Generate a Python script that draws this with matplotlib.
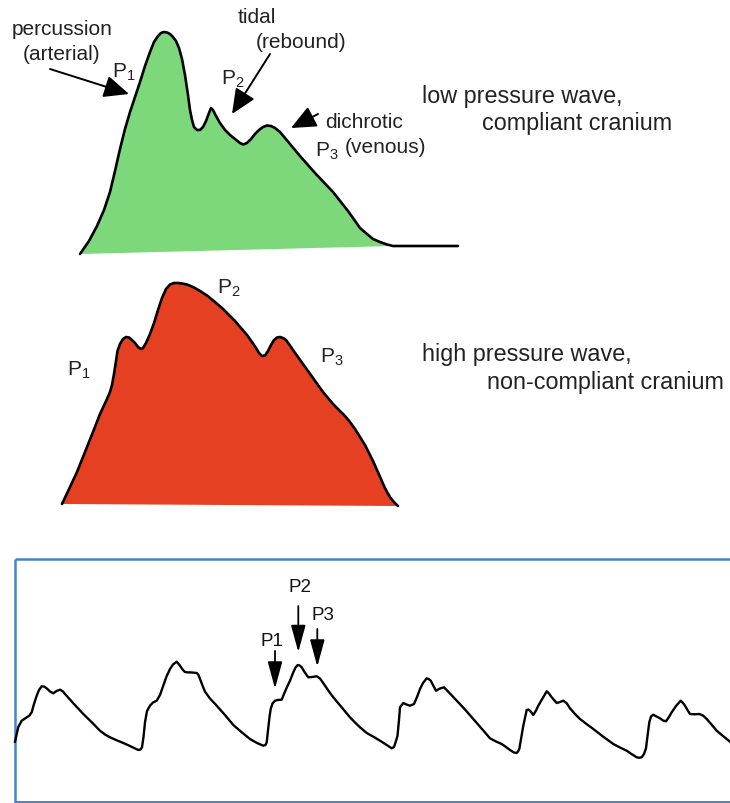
import matplotlib
matplotlib.use("Agg")
import matplotlib.pyplot as plt
from matplotlib import font_manager

plt.rcParams['font.family'] = ['Liberation Sans', 'DejaVu Sans']
plt.rcParams['mathtext.fontset'] = 'custom'
plt.rcParams['mathtext.rm'] = 'Liberation Sans'
plt.rcParams['mathtext.it'] = 'Liberation Sans'

# low pressure wave (green), picture pixel coords
green_x = [80, 89, 97, 104, 110, 115, 120, 125, 130, 135, 140, 145, 150, 154, 158, 161, 164,
           167, 170, 173, 176, 179, 182, 185, 188, 190, 192, 194, 197, 200, 203, 206, 209, 211,
           213, 216, 220, 225, 230, 235, 240, 243, 247, 251, 255, 259, 263, 267, 271, 275, 280,
           290, 300, 315, 333, 348, 360, 367, 373, 380, 387, 393, 420, 458]
green_y = [255, 242, 227, 211, 193, 172, 150, 130, 113, 98, 83, 67, 53, 43, 37, 34, 33,
           33.5, 35, 38, 42, 49, 60, 76, 96, 111, 121, 128, 131, 131, 128, 122, 114, 109,
           111, 117, 124, 131, 136, 140, 144, 145.5, 144, 140, 135, 131, 128, 126.5, 127, 129, 133,
           145, 157, 174, 193, 212, 229, 235, 240, 243, 245.5, 247, 247, 247]
green_fill_end = 62  # fill stops where the curve meets the flat tail

# high pressure wave (red)
red_x = [62, 70, 77, 85, 93, 100, 107, 110, 112, 114, 116, 117.5, 120, 123, 126, 129, 132, 135,
         138, 141, 143, 146, 150, 154, 158, 162, 166, 170, 174, 178, 182, 187, 193, 200, 207, 215,
         222, 228, 235, 241, 247, 252, 256, 259, 262, 265, 268, 271, 274, 277, 280, 283, 286, 289,
         293, 298, 303, 308, 313, 318, 323, 328, 333, 339, 345, 350, 355, 360, 365, 369, 373, 377,
         381, 384, 387, 390, 393, 396, 398]
red_y = [505, 488, 473, 453, 433, 415, 400, 393, 386, 375, 362, 352, 345, 340, 338, 338.5, 341, 344,
         348, 350, 349, 344, 335, 324, 311, 299, 290, 285.5, 284, 284, 284.5, 285.5, 288, 292, 296.5, 303,
         309, 315, 322, 329, 336, 343, 349, 354, 357, 356.5, 352, 346, 341, 338.5, 338, 339, 341, 345,
         351, 358, 365, 372, 379, 386, 393, 399, 405, 411, 417, 423, 430, 438, 446, 454, 462, 471,
         480, 487, 493, 498, 502, 505, 507]

# ICP trace (bottom panel)
icp_x = [15, 18.3, 21.7, 26.7, 29.5, 31.7, 34, 36.7, 39, 41.7, 44, 46.7, 50, 53.3, 56.5, 60, 63, 65,
         74, 83.3, 92, 100, 105, 110, 116, 123.3, 131, 138.3, 140.5, 142, 143.5, 145, 147, 150,
         153, 156.7, 160, 163.3, 166.5, 170, 173, 176.7, 179.5, 182.7, 185, 187.3, 192, 196.7,
         198.5, 200, 202.5, 205, 210, 216.7, 225, 233.3, 242, 250, 257, 263.3, 265.5, 266.7, 268,
         269.5, 270.7, 272.5, 275, 278, 281.7, 284, 287, 290, 293, 295.5, 297.7, 299.7, 301.7,
         304.5, 308.3, 312, 316.7, 320, 322.5, 325, 329, 333.3, 341, 350, 355, 360, 366.7, 373,
         380, 386, 391.7, 394, 396, 397.5, 399, 400, 403.3, 406.5, 410, 414, 417, 420, 423, 426.7,
         428.5, 430.7, 433, 436, 440, 444, 450, 456.7, 465, 473.3, 482, 490, 496, 501.7, 506,
         510, 514, 516.7, 518, 519.3, 521, 523.3, 526.7, 528.5, 530, 533.3, 536, 538.3, 542.5,
         546.7, 549, 551.7, 556.7, 560, 563.3, 566.5, 570, 575, 580, 586.5, 593.3, 603, 613.3,
         620, 626.7, 631.5, 636.7, 639, 641.7, 644, 646, 647.5, 649.3, 651, 653.3, 656.5, 660,
         663, 666, 669, 671.7, 676, 680.7, 683, 685, 687.5, 690, 694.5, 699.3, 703, 706.7, 711.5,
         716.7, 723, 730]
icp_y = [742.7, 728, 721.7, 718.3, 716.5, 713.3, 705, 696.7, 691, 687.3, 687.5, 689.3, 692.5, 694.3,
         692, 690.7, 692.5, 695, 705, 715, 723.5, 731.7, 735.5, 738.3, 741, 744, 747.5, 751,
         750.5, 748.3, 738, 723.3, 712, 706.7, 703.5, 701.7, 696, 686.7, 677.5, 670, 665.5,
         662.7, 666, 670.7, 673, 673.3, 673.5, 674, 676, 680, 686.5, 692.7, 699.5, 706.7, 716,
         726, 733.5, 740, 744, 746.7, 746, 743.3, 732, 718, 710, 704.5, 701.7, 700.9, 700.7,
         695, 688, 681.7, 674, 668.5, 666, 666.5, 668.3, 673, 678.3, 678, 677.3, 679.5, 683,
         686.7, 692.5, 698.3, 707.5, 718.3, 723.5, 728.3, 734, 737.5, 741.7, 745.5, 749.3, 748,
         742, 736.7, 721, 708.3, 704, 705.5, 706.7, 705, 698, 690, 684, 679.3, 680, 681.7,
         686, 691.7, 689.5, 688.3, 694.5, 701.7, 710.5, 720, 730, 739.3, 742.5, 745, 748, 751,
         753.5, 754, 752.5, 750, 740, 726.7, 711, 710.5, 711.7, 716, 711.5, 706.7, 699.5, 692.3,
         694.5, 698.3, 704, 703, 701.7, 704, 709.3, 715, 720, 725, 730, 737.5, 745, 748.5, 751.7,
         755, 758.3, 758.8, 758.3, 755, 749.3, 737, 723.3, 717.5, 715.7, 717.5, 719.3, 721.5,
         722.3, 718, 713.3, 707, 701.7, 704, 706.7, 711, 715, 715.3, 715, 716.5, 720, 725.5,
         731.7, 737, 742.7]

# text labels: (x, y, text, ha)
green_labels = [
    (62, 35, "percussion", "center"),
    (62, 60, "(arterial)", "center"),
    (257, 22.7, "tidal", "center"),
    (301, 47.5, "(rebound)", "center"),
    (325, 128.3, "dichrotic", "left"),
    (345, 153.3, "(venous)", "left"),
]
green_peaks = [(112, 77.3, r"P$_1$"), (221, 85, r"P$_2$"), (315, 156.7, r"P$_3$")]
green_arrows = [((50, 70), (129, 95)), ((270, 55), (232, 115)), ((318, 115), (291, 129))]

red_peaks = [(67, 376, r"P$_1$"), (217, 294, r"P$_2$"), (320, 363, r"P$_3$")]

captions = [
    (422, 102.7, "low pressure wave,"),
    (482, 130, "compliant cranium"),
    (422, 361, "high pressure wave,"),
    (487, 389, "non-compliant cranium"),
]

icp_labels = [(300.5, 592, "P2"), (322.5, 620, "P3"), (271.5, 646, "P1")]
icp_arrows = [((298.3, 607), (298.3, 653)), ((317.3, 630), (317.3, 667.5)), ((275, 652), (275, 689.5))]

# condensed face for the bottom labels if it is installed
names = {f.name for f in font_manager.fontManager.ttflist}
narrow = ['Liberation Sans Narrow', 'Liberation Sans'] if 'Liberation Sans Narrow' in names else ['Liberation Sans']
icp_size = 15 if 'Liberation Sans Narrow' in names else 13.5

fig = plt.figure(figsize=(7.3, 8.04), dpi=100)
ax = fig.add_axes([0, 0, 1, 1])
ax.set_xlim(0, 730)
ax.set_ylim(804, 0)
ax.axis('off')

# green wave
ax.fill(green_x[:green_fill_end], green_y[:green_fill_end], color='#7dd87b', lw=0, zorder=1)
ax.plot(green_x, green_y, color='black', lw=1.9, solid_joinstyle='round', solid_capstyle='round', zorder=2)

# red wave
ax.fill(red_x, red_y, color='#e54022', lw=0, zorder=1)
ax.plot(red_x, red_y, color='black', lw=1.9, solid_joinstyle='round', solid_capstyle='round', zorder=2)

for x, y, t, ha in green_labels:
    ax.text(x, y, t, ha=ha, va='baseline', fontsize=15, color='#222222')
for x, y, t in green_peaks + red_peaks:
    ax.text(x, y, t, ha='left', va='baseline', fontsize=15, color='#222222')
for x, y, t in captions:
    ax.text(x, y, t, ha='left', va='baseline', fontsize=16.8, color='#222222')

for tail, tip in green_arrows:
    ax.annotate('', xy=tip, xytext=tail,
                arrowprops=dict(arrowstyle='-|>,head_length=0.9,head_width=0.4', color='black',
                                lw=1.4, shrinkA=0, shrinkB=0, mutation_scale=17))

# bottom panel box
ax.plot([15, 15], [559.5, 804], color='#4a82c6', lw=1.8, solid_capstyle='butt')
ax.plot([15, 730], [559.5, 559.5], color='#4a82c6', lw=1.8, solid_capstyle='butt')
ax.plot([15, 730], [802.7, 802.7], color='#4a82c6', lw=1.4, solid_capstyle='butt')

ax.plot(icp_x, icp_y, color='black', lw=1.7, solid_joinstyle='round', zorder=3)

for x, y, t in icp_labels:
    ax.text(x, y, t, ha='center', va='baseline', fontsize=icp_size, family=narrow, color='#111111')
for tail, tip in icp_arrows:
    ax.annotate('', xy=tip, xytext=tail,
                arrowprops=dict(arrowstyle='-|>,head_length=1.1,head_width=0.3', color='black',
                                lw=1.3, shrinkA=0, shrinkB=0, mutation_scale=15))

fig.savefig('out.png', dpi=100)
